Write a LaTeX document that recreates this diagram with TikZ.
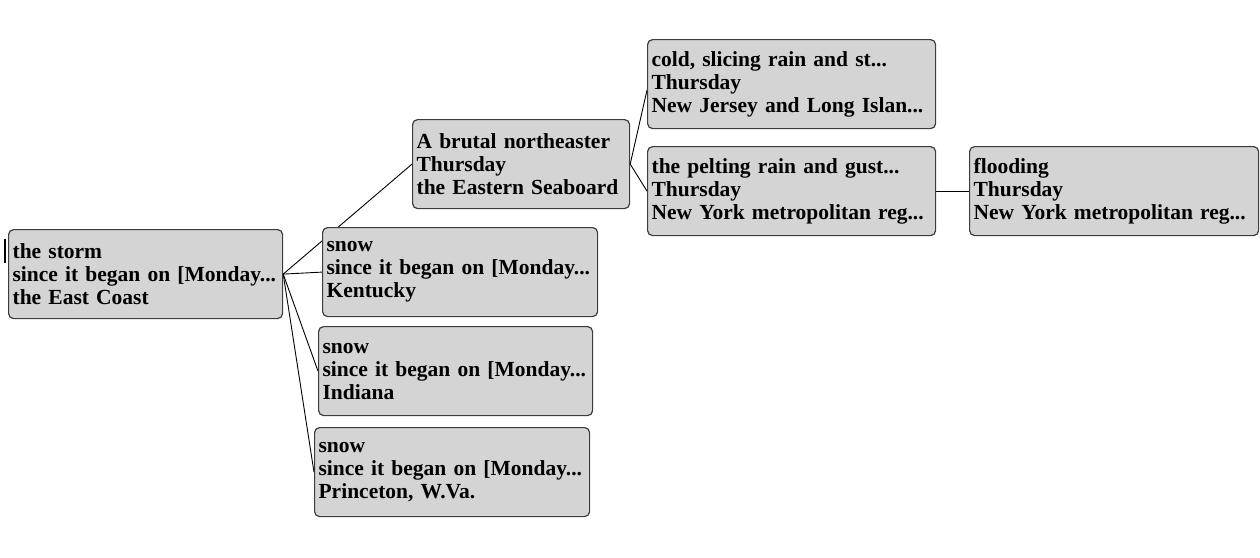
\documentclass[tikz,border=0pt]{standalone}
\usepackage{fontspec}
\setmainfont{Liberation Serif}
\usepackage{xcolor}
\usetikzlibrary{backgrounds}
\definecolor{boxgray}{RGB}{212,212,212}
\definecolor{boxline}{RGB}{60,60,60}
\tikzset{
  evbox/.style={
    draw=boxline, line width=1.2pt, rounded corners=5pt,
    fill=boxgray, anchor=north west,
    text width=#1, align=left,
    inner xsep=4pt, inner ysep=4pt, minimum height=89pt,
    font=\fontsize{21.5}{23}\selectfont\bfseries
  },
  link/.style={draw=black, line width=0.9pt},
}

\begin{document}
\begin{tikzpicture}[x=1pt, y=-1pt]
  \useasboundingbox (0,0) rectangle (1260,557);

  \node[evbox=266pt] (storm)     at (8,229)
    {the storm\\since it began on [Monday...\\the East Coast};
  \node[evbox=267pt] (snowKy)    at (322,227)
    {snow\\since it began on [Monday...\\Kentucky};
  \node[evbox=266pt] (snowIn)    at (318,326)
    {snow\\since it began on [Monday...\\Indiana};
  \node[evbox=267pt] (snowWv)    at (314,427)
    {snow\\since it began on [Monday...\\Princeton, W.Va.};
  \node[evbox=209pt] (noreaster) at (412,119)
    {A brutal northeaster\\Thursday\\the Eastern Seaboard};
  \node[evbox=280pt] (coldRain)  at (647,39)
    {cold, slicing rain and st...\\Thursday\\New Jersey and Long Islan...};
  \node[evbox=280pt] (pelting)   at (647,146)
    {the pelting rain and gust...\\Thursday\\New York metropolitan reg...};
  \node[evbox=281pt] (flooding)  at (969,146)
    {flooding\\Thursday\\New York metropolitan reg...};

  % links sit behind the boxes
  \begin{scope}[on background layer]
    \draw[link] (storm.east) -- (noreaster.west);
    \draw[link] (storm.east) -- (snowKy.west);
    \draw[link] (storm.east) -- (snowIn.west);
    \draw[link] (storm.east) -- (snowWv.west);
    \draw[link] (noreaster.east) -- ([yshift=-6pt]coldRain.west);
    \draw[link] (noreaster.east) -- (pelting.west);
    \draw[link] (pelting.east) -- (flooding.west);
  \end{scope}

  % stub of the link coming in from the left
  \draw[line width=2pt] ([xshift=-3pt, yshift=35pt]storm.west)
    -- ([xshift=-3pt, yshift=11pt]storm.west);
\end{tikzpicture}
\end{document}
